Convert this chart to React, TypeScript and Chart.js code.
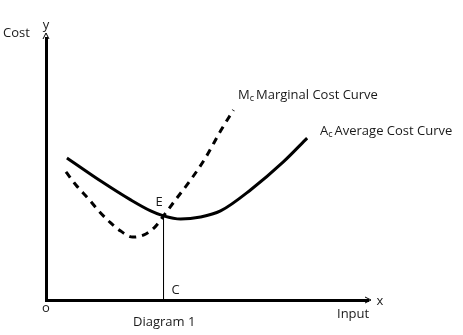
import { useEffect, useRef } from "react";
import { Chart, registerables } from "chart.js";

Chart.register(...registerables);

// Average cost curve (input, cost), axis units 0..100
const acInput = [6.5, 17.0, 26.3, 32.5, 36.5, 41.8, 48.0, 54.2, 63.5, 73.7, 81.1];
const acCost = [54.2, 45.4, 38.2, 34.0, 32.1, 30.9, 31.7, 34.0, 42.0, 52.7, 61.8];

// Marginal cost curve
const mcInput = [6.2, 9.3, 13.0, 16.4, 20.1, 23.2, 26.9, 31.0, 34.1, 36.5, 40.2, 44.9, 49.5, 54.2, 58.2];
const mcCost = [48.9, 43.9, 38.9, 34.0, 29.4, 26.3, 24.0, 25.2, 28.2, 32.1, 38.2, 45.8, 54.2, 64.5, 72.5];

// Equilibrium point E and its foot C
const eqInput = 36.5;
const eqCost = 32.1;

const FONT = '"Open Sans", sans-serif';
const TEXT = "#1a1a1a";

const labelsPlugin = {
  id: "labels",
  afterDraw(chart: any) {
    const ctx = chart.ctx as CanvasRenderingContext2D;
    const xs = chart.scales.x;
    const ys = chart.scales.y;
    const ca = chart.chartArea;
    ctx.save();
    ctx.fillStyle = TEXT;
    ctx.textBaseline = "middle";
    ctx.textAlign = "left";
    const f = (s: number) => `${s}px ${FONT}`;
    const put = (t: string, x: number, y: number, size = 13) => {
      ctx.font = f(size);
      ctx.fillText(t, x, y);
      return ctx.measureText(t).width;
    };
    const sub = (big: string, small: string, rest: string, x: number, y: number) => {
      const w = put(big, x, y, 13);
      const w2 = put(small, x + w, y + 3, 9);
      put(rest, x + w + w2 + 2, y, 13);
    };

    put("Cost", 3, 33);
    ctx.textAlign = "center";
    put("y", ca.left, 25);
    put("o", ca.left, 308);
    put("x", ca.right + 12, ca.bottom + 1);
    ctx.textAlign = "left";
    put("Input", 337, 314);
    put("Diagram 1", 133, 322);

    const ex = xs.getPixelForValue(eqInput);
    const ey = ys.getPixelForValue(eqCost);
    put("E", ex - 8, ey - 14);
    put("C", ex + 8, ys.getPixelForValue(0) - 10);

    sub("M", "c", "Marginal Cost Curve", 238, 95);
    sub("A", "c", "Average Cost Curve", 320, 131);

    // arrowheads
    ctx.strokeStyle = "#000";
    ctx.lineWidth = 1;
    ctx.beginPath();
    ctx.moveTo(ca.right - 3, ca.bottom - 3);
    ctx.lineTo(ca.right + 3, ca.bottom);
    ctx.lineTo(ca.right - 3, ca.bottom + 3);
    ctx.stroke();
    ctx.beginPath();
    ctx.moveTo(ca.left - 3, ca.top + 1);
    ctx.lineTo(ca.left, ca.top - 5);
    ctx.lineTo(ca.left + 3, ca.top + 1);
    ctx.stroke();
    ctx.restore();
  },
};

export default function App() {
  const ref = useRef<HTMLCanvasElement | null>(null);
  useEffect(() => {
    if (!ref.current) return;
    const chart = new Chart(ref.current, {
      type: "line",
      data: {
        datasets: [
          {
            label: "Ac Average Cost Curve",
            data: acInput.map((x, i) => ({ x, y: acCost[i] })),
            borderColor: "#000",
            borderWidth: 3,
            pointRadius: 0,
            cubicInterpolationMode: "monotone",
            fill: false,
          },
          {
            label: "Mc Marginal Cost Curve",
            data: mcInput.map((x, i) => ({ x, y: mcCost[i] })),
            borderColor: "#000",
            borderWidth: 3,
            borderDash: [7, 6],
            pointRadius: 0,
            cubicInterpolationMode: "monotone",
            fill: false,
          },
          {
            label: "EC",
            data: [
              { x: eqInput, y: eqCost },
              { x: eqInput, y: 0 },
            ],
            borderColor: "#000",
            borderWidth: 1,
            pointRadius: 0,
            fill: false,
          },
        ],
      },
      options: {
        animation: false,
        responsive: true,
        maintainAspectRatio: false,
        layout: { padding: { left: 38, top: 38, right: 95, bottom: 27 } },
        plugins: { legend: { display: false }, tooltip: { enabled: false } },
        scales: {
          x: {
            type: "linear",
            min: 0,
            max: 100,
            ticks: { display: false },
            grid: { display: false },
            border: { display: true, width: 3, color: "#000" },
          },
          y: {
            type: "linear",
            min: 0,
            max: 100,
            ticks: { display: false },
            grid: { display: false },
            border: { display: true, width: 3, color: "#000" },
          },
        },
      },
      plugins: [labelsPlugin],
    });
    return () => chart.destroy();
  }, []);
  return (
    <div style={{ position: "absolute", left: 0, top: 0, width: 463, height: 335, background: "#fff" }}>
      <canvas ref={ref} />
    </div>
  );
}
